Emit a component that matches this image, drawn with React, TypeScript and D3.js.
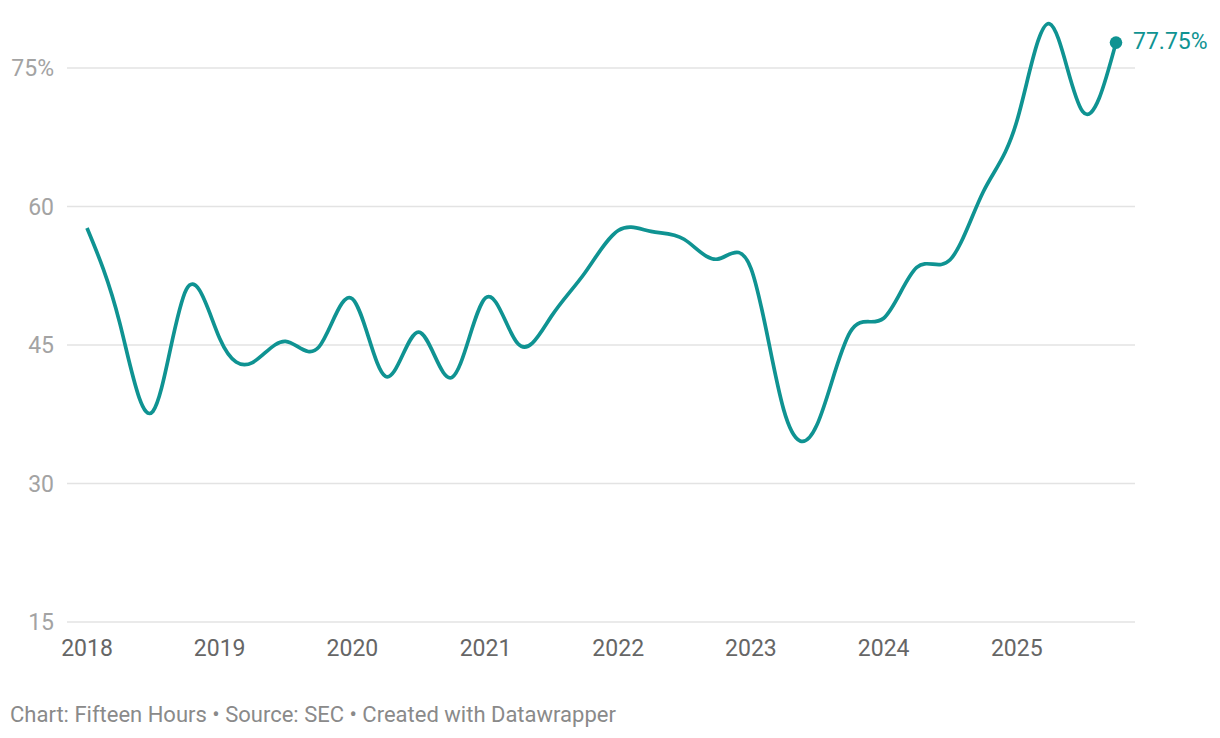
import React from "react";
import { scaleTime, scaleLinear, line as d3line, curveNatural } from "d3";

const dates = [
  "2018-01-01", "2018-04-01", "2018-07-01", "2018-10-01",
  "2019-01-01", "2019-04-01", "2019-07-01", "2019-10-01",
  "2020-01-01", "2020-04-01", "2020-07-01", "2020-10-01",
  "2021-01-01", "2021-04-01", "2021-07-01", "2021-10-01",
  "2022-01-01", "2022-04-01", "2022-07-01", "2022-10-01",
  "2023-01-01", "2023-04-01", "2023-07-01", "2023-10-01",
  "2024-01-01", "2024-04-01", "2024-07-01", "2024-10-01",
  "2025-01-01", "2025-04-01", "2025-07-01", "2025-10-01",
];

const values = [
  57.67, 47.4, 37.8, 51.0,
  45.7, 43.1, 45.4, 44.8,
  50.0, 41.6, 46.4, 41.5,
  50.1, 45.1, 48.1, 52.8,
  57.4, 57.3, 56.45, 54.3,
  53.3, 38.0, 36.3, 46.4,
  47.9, 53.4, 54.2, 61.6,
  69.2, 79.8, 70.3, 77.75,
];

const yTicks = [15, 30, 45, 60, 75];
const xTicks = ["2018", "2019", "2020", "2021", "2022", "2023", "2024", "2025"];
const lastLabel = "77.75%";
const footer = "Chart: Fifteen Hours • Source: SEC • Created with Datawrapper";

const data = dates.map((d, i) => ({ date: new Date(d + "T00:00:00"), value: values[i] }));

const TEAL = "#0f9392";
const FONT = "Roboto, 'Noto Sans', sans-serif";

export default function App() {
  const width = 1220;
  const height = 738;

  const x = scaleTime()
    .domain([data[0].date, data[data.length - 1].date])
    .range([87, 1116]);

  const y = scaleLinear().domain([15, 75]).range([622, 68]);

  const line = d3line<(typeof data)[number]>()
    .x((d) => x(d.date))
    .y((d) => y(d.value))
    .curve(curveNatural);

  const path = line(data) ?? "";
  const last = data[data.length - 1];

  return (
    <svg
      width={width}
      height={height}
      style={{ position: "absolute", left: 0, top: 0, background: "#fff" }}
      fontFamily={FONT}
    >
      {/* grid + y labels */}
      {yTicks.map((t, i) => (
        <g key={t}>
          <line x1={67} x2={1135} y1={y(t)} y2={y(t)} stroke="#e3e3e3" strokeWidth={1.3} />
          <text
            x={54}
            y={y(t)}
            dy="0.35em"
            textAnchor="end"
            fontSize={23}
            fill="#a3a3a3"
          >
            {i === yTicks.length - 1 ? `${t}%` : t}
          </text>
        </g>
      ))}

      {/* x labels */}
      {xTicks.map((yr) => (
        <text
          key={yr}
          x={x(new Date(`${yr}-01-01T00:00:00`))}
          y={648}
          dy="0.35em"
          textAnchor="middle"
          fontSize={23}
          fill="#666"
        >
          {yr}
        </text>
      ))}

      {/* line */}
      <path d={path} fill="none" stroke={TEAL} strokeWidth={3.7} strokeLinejoin="round" />
      <circle cx={x(last.date)} cy={y(last.value)} r={6.3} fill={TEAL} />
      <text
        x={x(last.date) + 17}
        y={y(last.value) - 2}
        dy="0.35em"
        fontSize={23}
        fill={TEAL}
      >
        {lastLabel}
      </text>

      {/* footer */}
      <text x={10} y={714} dy="0.35em" fontSize={22} fill="#8a8a8a">
        {footer}
      </text>
    </svg>
  );
}
